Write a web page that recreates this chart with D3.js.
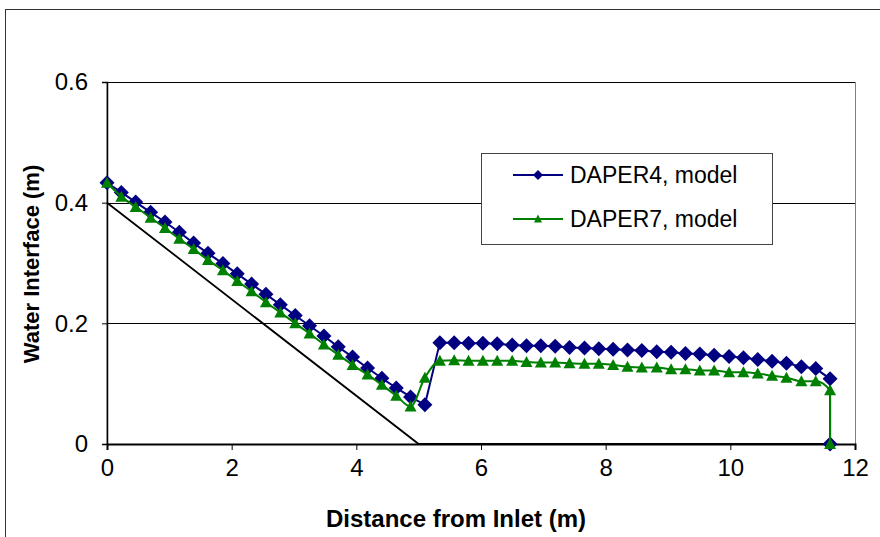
<!DOCTYPE html>
<html>
<head>
<meta charset="utf-8">
<script src="https://cdn.jsdelivr.net/npm/d3@7"></script>
<style>
  html, body { margin: 0; padding: 0; background: #fff; }
  svg { display: block; }
  text { font-family: Arial, "Liberation Sans", sans-serif; fill: #000; }
</style>
</head>
<body>
<script>
// ---- data ----
const distance = [0,0.23,0.46,0.70,0.93,1.16,1.39,1.62,1.86,2.09,2.32,2.55,2.78,3.02,3.25,3.48,3.71,3.94,4.18,4.41,4.64,4.87,5.10,5.34,5.57,5.80,6.03,6.26,6.50,6.73,6.96,7.19,7.42,7.66,7.89,8.12,8.35,8.58,8.82,9.05,9.28,9.51,9.74,9.98,10.21,10.44,10.67,10.90,11.14,11.37,11.60,11.60];
const daper4 = [0.433,0.417,0.401,0.384,0.368,0.351,0.333,0.316,0.299,0.282,0.265,0.248,0.231,0.213,0.196,0.179,0.161,0.144,0.126,0.109,0.093,0.078,0.065,
  0.168,0.168,0.167,0.167,0.166,0.164,0.163,0.163,0.162,0.160,0.159,0.158,
  0.157,0.156,0.155,0.153,0.152,0.150,0.149,0.147,0.145,0.143,0.140,0.137,0.134,0.128,0.125,0.108,0];
const daper7 = [0.433,0.410,0.393,0.375,0.358,0.340,0.323,0.305,0.288,0.270,0.253,0.235,0.218,0.200,0.183,0.165,0.148,0.131,0.115,0.098,0.080,0.062,0.110,
  0.138,0.139,0.138,0.138,0.138,0.138,0.136,0.135,0.135,0.134,0.133,0.133,
  0.131,0.128,0.127,0.127,0.124,0.124,0.122,0.122,0.119,0.119,0.117,0.113,0.110,0.104,0.104,0.089,0];
const bedX = [0, 5, 11.6];
const bedY = [0.4, 0, 0];
const seriesNames = ["DAPER4, model", "DAPER7, model"];
const xTicks = [0, 2, 4, 6, 8, 10, 12];
const yTicks = [0, 0.2, 0.4, 0.6];
const xTitle = "Distance from Inlet (m)";
const yTitle = "Water Interface (m)";

// ---- layout ----
const W = 880, H = 537;
const plot = { left: 107, top: 82, right: 855, bottom: 444 };
const NAVY = "#000080", GREEN = "#008000";

const svg = d3.select("body").append("svg").attr("width", W).attr("height", H);

// outer chart frame (cropped at right / bottom)
svg.append("rect").attr("x", 5.5).attr("y", 9.5).attr("width", 900).attr("height", 600)
  .attr("fill", "#fff").attr("stroke", "#333").attr("stroke-width", 1);

const x = d3.scaleLinear().domain([0, 12]).range([plot.left, plot.right]);
const y = d3.scaleLinear().domain([0, 0.6]).range([plot.bottom, plot.top]);

// plot area border
svg.append("rect").attr("x", plot.left).attr("y", plot.top + 0.5)
  .attr("width", plot.right - plot.left + 0.5).attr("height", plot.bottom - plot.top)
  .attr("fill", "none").attr("stroke", "#808080").attr("stroke-width", 1);

// gridlines
svg.append("g").selectAll("line").data(yTicks.filter(d => d > 0)).join("line")
  .attr("x1", plot.left).attr("x2", plot.right)
  .attr("y1", d => Math.round(y(d)) + 0.5).attr("y2", d => Math.round(y(d)) + 0.5)
  .attr("stroke", "#000").attr("stroke-width", 1);

// axes
const fontTick = "24px";
const yAxis = svg.append("g").attr("transform", `translate(${plot.left},0)`)
  .call(d3.axisLeft(y).tickValues(yTicks).tickSize(5).tickPadding(14)
    .tickFormat(d => d === 0 ? "0" : d3.format(".1f")(d)));
yAxis.select(".domain").attr("stroke", "#000").attr("stroke-width", 1.5);
yAxis.selectAll(".tick line").attr("stroke", "#000");
yAxis.selectAll("text").style("font-size", fontTick).attr("font-family", null);

const xAxis = svg.append("g").attr("transform", `translate(0,${plot.bottom})`)
  .call(d3.axisBottom(x).tickValues(xTicks).tickSize(6).tickPadding(9));
xAxis.select(".domain").attr("stroke", "#000").attr("stroke-width", 2);
xAxis.selectAll(".tick line").attr("stroke", "#000");
xAxis.selectAll("text").style("font-size", fontTick).attr("font-family", null);

// axis titles
svg.append("text").attr("x", 456).attr("y", 527).attr("text-anchor", "middle")
  .style("font-size", "24px").style("font-weight", "bold").text(xTitle);
svg.append("text").attr("transform", "translate(39,264) rotate(-90)").attr("text-anchor", "middle")
  .style("font-size", "22px").style("font-weight", "bold").text(yTitle);

// bed line
const bed = bedX.map((d, i) => [d, bedY[i]]);
svg.append("path").datum(bed)
  .attr("d", d3.line().x(d => x(d[0])).y(d => y(d[1])))
  .attr("fill", "none").attr("stroke", "#000").attr("stroke-width", 1.8);

// series
const s4 = distance.map((d, i) => [d, daper4[i]]);
const s7 = distance.map((d, i) => [d, daper7[i]]);

const diamond = (s) => `M0,${-s}L${s},0L0,${s}L${-s},0Z`;
const triangle = (w, h) => `M0,${-h/2 - 1}L${w/2},${h/2}L${-w/2},${h/2}Z`;

svg.append("path").datum(s4)
  .attr("d", d3.line().x(d => x(d[0])).y(d => y(d[1])))
  .attr("fill", "none").attr("stroke", NAVY).attr("stroke-width", 2);
svg.append("g").selectAll("path").data(s4).join("path")
  .attr("transform", d => `translate(${x(d[0])},${y(d[1])})`)
  .attr("d", diamond(7.5)).attr("fill", NAVY);

svg.append("path").datum(s7)
  .attr("d", d3.line().curve(d3.curveMonotoneX).x(d => x(d[0])).y(d => y(d[1])))
  .attr("fill", "none").attr("stroke", GREEN).attr("stroke-width", 2);
svg.append("g").selectAll("path").data(s7).join("path")
  .attr("transform", d => `translate(${x(d[0])},${y(d[1])})`)
  .attr("d", triangle(12, 10)).attr("fill", GREEN);

// legend
const lg = svg.append("g");
lg.append("rect").attr("x", 481.5).attr("y", 153.5).attr("width", 291).attr("height", 91)
  .attr("fill", "#fff").attr("stroke", "#444").attr("stroke-width", 1);
const legendRows = [
  { name: seriesNames[0], color: NAVY, y: 175, marker: diamond(5) },
  { name: seriesNames[1], color: GREEN, y: 219, marker: triangle(8, 7) }
];
legendRows.forEach(r => {
  lg.append("line").attr("x1", 513).attr("x2", 563).attr("y1", r.y).attr("y2", r.y)
    .attr("stroke", r.color).attr("stroke-width", 2);
  lg.append("path").attr("transform", `translate(538,${r.y})`).attr("d", r.marker).attr("fill", r.color);
  lg.append("text").attr("x", 570).attr("y", r.y + 8).style("font-size", "23px").text(r.name);
});
</script>
</body>
</html>
